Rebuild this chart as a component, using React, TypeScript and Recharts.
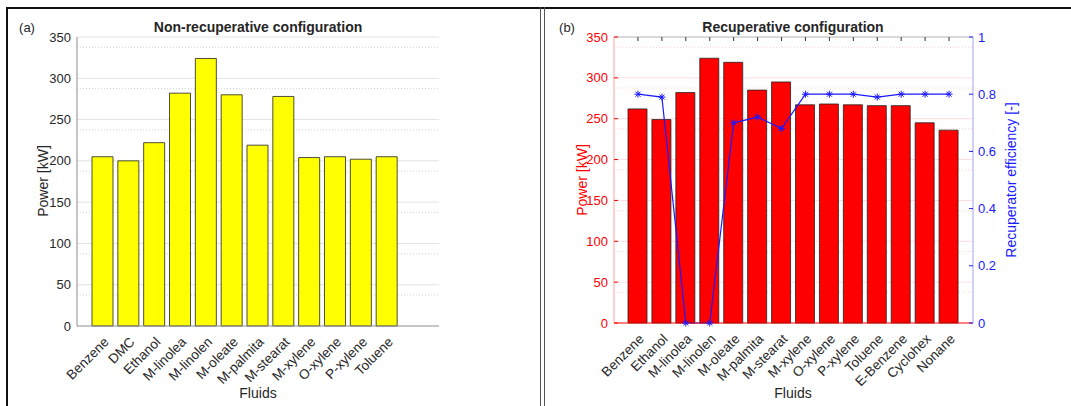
import { BarChart, ComposedChart, Bar, Line, XAxis, YAxis, CartesianGrid } from "recharts";
import type { CSSProperties, ReactNode } from "react";

const FLUIDS_A = ["Benzene", "DMC", "Ethanol", "M-linolea", "M-linolen", "M-oleate", "M-palmita", "M-stearat", "M-xylene", "O-xylene", "P-xylene", "Toluene"];
const POWER_A = [205, 200, 222, 282, 324, 280, 219, 278, 204, 205, 202, 205];

const FLUIDS_B = ["Benzene", "Ethanol", "M-linolea", "M-linolen", "M-oleate", "M-palmita", "M-stearat", "M-xylene", "O-xylene", "P-xylene", "Toluene", "E-Benzene", "Cyclohex", "Nonane"];
const POWER_B = [262, 249, 282, 324, 319, 285, 295, 267, 268, 267, 266, 266, 245, 236];
const EFF_B = [0.8, 0.79, 0, 0, 0.7, 0.72, 0.68, 0.8, 0.8, 0.8, 0.79, 0.8, 0.8, 0.8];

const POWER_TICKS = [0, 50, 100, 150, 200, 250, 300, 350];
const POWER_MINOR = POWER_TICKS.slice(0, -1).flatMap((t) => [t + 12.5, t + 25, t + 37.5]);
const EFF_TICKS = [0, 0.2, 0.4, 0.6, 0.8, 1];

const FONT = "'Liberation Sans', Arial, Helvetica, sans-serif";
const INK = "#262626";

const dataA = FLUIDS_A.map((name, i) => ({ name, power: POWER_A[i] }));
const dataB = FLUIDS_B.map((name, i) => ({ name, power: POWER_B[i], eff: EFF_B[i] }));

function Txt({ x, y, children, style }: { x: number; y: number; children: ReactNode; style?: CSSProperties }) {
  return (
    <div
      style={{
        position: "absolute",
        left: x,
        top: y,
        transform: "translate(-50%, -50%)",
        whiteSpace: "nowrap",
        fontFamily: FONT,
        fontSize: 13,
        color: INK,
        ...style,
      }}
    >
      {children}
    </div>
  );
}

function Asterisk(props: any) {
  const { cx, cy } = props;
  if (cx == null || cy == null) return null;
  const r = 3.5;
  const d = r * 0.72;
  return (
    <g stroke="#1a1aff" strokeWidth={1}>
      <line x1={cx - r} y1={cy} x2={cx + r} y2={cy} />
      <line x1={cx} y1={cy - r} x2={cx} y2={cy + r} />
      <line x1={cx - d} y1={cy - d} x2={cx + d} y2={cy + d} />
      <line x1={cx - d} y1={cy + d} x2={cx + d} y2={cy - d} />
    </g>
  );
}

const xTick = { angle: -45, textAnchor: "end" as const, fill: INK, fontSize: 13.5, fontFamily: FONT };

export default function App() {
  return (
    <div style={{ position: "absolute", left: 0, top: 0, width: 1071, height: 406, background: "#fff", overflow: "hidden" }}>
      {/* frame */}
      <div style={{ position: "absolute", left: 6, top: 7, width: 1065, height: 1.5, background: "#111" }} />
      <div style={{ position: "absolute", left: 6, top: 7, width: 1.5, height: 399, background: "#111" }} />
      <div style={{ position: "absolute", left: 540, top: 7, width: 1, height: 399, background: "#555" }} />
      <div style={{ position: "absolute", left: 544, top: 7, width: 1, height: 399, background: "#555" }} />

      {/* (a) non-recuperative */}
      <div style={{ position: "absolute", left: 0, top: 0 }}>
        <BarChart width={540} height={406} data={dataA} margin={{ top: 37, right: 101, bottom: 0, left: 0 }}>
          <CartesianGrid vertical={false} horizontalValues={POWER_MINOR} stroke="#d4d4d4" strokeDasharray="1 2" />
          <CartesianGrid vertical={false} horizontalValues={[50, 100, 150, 200, 250, 300, 350]} stroke="#e3e3e3" />
          <XAxis
            dataKey="name"
            type="category"
            interval={0}
            height={80}
            padding={{ left: 13, right: 39 }}
            tick={xTick}
            tickLine={false}
            tickMargin={4}
            axisLine={{ stroke: "#8c8c8c" }}
          />
          <YAxis
            width={77}
            domain={[0, 350]}
            ticks={POWER_TICKS}
            tickLine={false}
            tickSize={0}
            tickMargin={6}
            axisLine={{ stroke: "#8c8c8c" }}
            tick={{ fill: INK, fontSize: 13, fontFamily: FONT }}
          />
          <Bar dataKey="power" fill="#ffff00" stroke="#222" strokeWidth={0.8} barSize={21} isAnimationActive={false} />
        </BarChart>
      </div>
      <Txt x={27} y={27}>(a)</Txt>
      <Txt x={258} y={27} style={{ fontWeight: "bold", fontSize: 14 }}>Non-recuperative configuration</Txt>
      <Txt x={43} y={181} style={{ fontSize: 14, transform: "translate(-50%, -50%) rotate(-90deg)" }}>Power [kW]</Txt>
      <Txt x={258} y={393} style={{ fontSize: 14 }}>Fluids</Txt>

      {/* (b) recuperative */}
      <div style={{ position: "absolute", left: 540, top: 0 }}>
        <ComposedChart width={531} height={406} data={dataB} margin={{ top: 36, right: 0, bottom: 0, left: 0 }}>
          <CartesianGrid xAxisId="b" yAxisId="p" vertical={false} horizontalValues={POWER_MINOR} stroke="#ffcfcf" strokeDasharray="1 2" />
          <CartesianGrid xAxisId="b" yAxisId="p" vertical={false} horizontalValues={[50, 100, 150, 200, 250, 300]} stroke="#ffdcdc" />
          <XAxis
            xAxisId="b"
            dataKey="name"
            type="category"
            interval={0}
            height={83}
            padding={{ left: 12, right: 12 }}
            tick={xTick}
            tickLine={false}
            tickMargin={4}
            axisLine={{ stroke: "#ff0000" }}
          />
          <XAxis
            xAxisId="t"
            orientation="top"
            dataKey="name"
            type="category"
            interval={0}
            height={1}
            padding={{ left: 12, right: 12 }}
            tickFormatter={() => ""}
            tickSize={-4}
            tickLine={{ stroke: "#333" }}
            axisLine={{ stroke: "#b4b4b4" }}
          />
          <YAxis
            yAxisId="p"
            width={74}
            domain={[0, 350]}
            ticks={POWER_TICKS}
            tickSize={-4}
            tickMargin={10}
            tickLine={{ stroke: "#ff0000" }}
            axisLine={{ stroke: "#ffa3a3" }}
            tick={{ fill: "#ff0000", fontSize: 13, fontFamily: FONT }}
          />
          <YAxis
            yAxisId="e"
            orientation="right"
            width={98}
            domain={[0, 1]}
            ticks={EFF_TICKS}
            tickSize={-4}
            tickMargin={9}
            tickLine={{ stroke: "#1a1aff" }}
            axisLine={{ stroke: "#a3a3ff" }}
            tick={{ fill: "#1a1aff", fontSize: 13, fontFamily: FONT }}
          />
          <Bar xAxisId="b" yAxisId="p" dataKey="power" fill="#ff0000" stroke="#222" strokeWidth={0.8} barSize={19} isAnimationActive={false} />
          <Line
            xAxisId="b"
            yAxisId="e"
            dataKey="eff"
            stroke="#1a1aff"
            strokeWidth={1.2}
            dot={<Asterisk />}
            activeDot={false}
            isAnimationActive={false}
          />
        </ComposedChart>
      </div>
      <Txt x={567} y={27}>(b)</Txt>
      <Txt x={793} y={27} style={{ fontWeight: "bold", fontSize: 14 }}>Recuperative configuration</Txt>
      <Txt x={582} y={180} style={{ fontSize: 14, color: "#ff0000", transform: "translate(-50%, -50%) rotate(-90deg)" }}>Power [kW]</Txt>
      <Txt x={1011} y={180} style={{ fontSize: 14, color: "#1a1aff", transform: "translate(-50%, -50%) rotate(-90deg)" }}>Recuperator efficiency [-]</Txt>
      <Txt x={793} y={393} style={{ fontSize: 14 }}>Fluids</Txt>
    </div>
  );
}
